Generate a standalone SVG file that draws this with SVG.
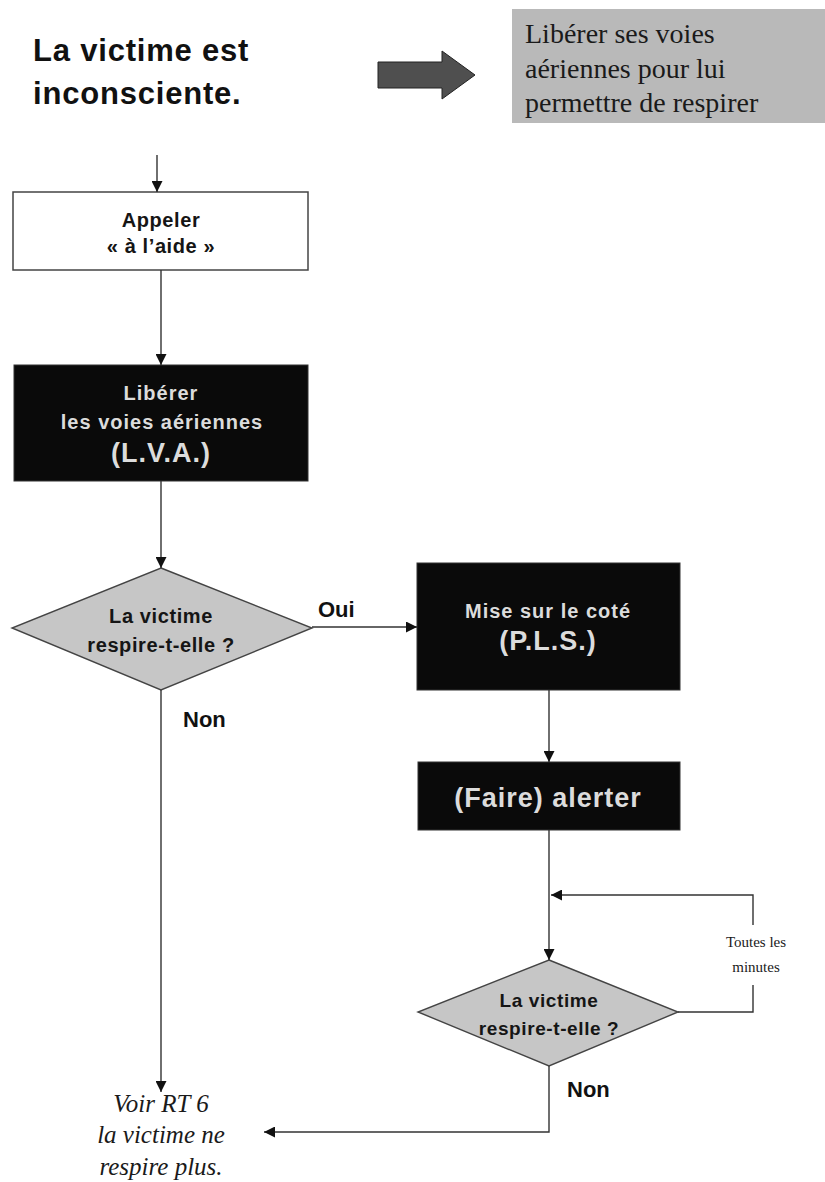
<svg xmlns="http://www.w3.org/2000/svg" width="825" height="1182" viewBox="0 0 825 1182">
<style>
.h{font-family:"Liberation Sans",Arial,sans-serif;font-weight:bold;fill:#111}
.b{font-family:"Liberation Sans",Arial,sans-serif;font-weight:bold;fill:#151515;text-anchor:middle;letter-spacing:0.6px}
.w{font-family:"Liberation Sans",Arial,sans-serif;font-weight:bold;fill:#dcdcdc;text-anchor:middle;letter-spacing:1px}
.s{font-family:"Liberation Serif","Times New Roman",serif;fill:#1a1a1a}
.ln{stroke:#333;stroke-width:1.4;fill:none}
.blk{fill:#0a0a0a;stroke:#333}
.dia{fill:#c6c6c6;stroke:#444;stroke-width:1.4}
</style>
<defs>
<marker id="ah" viewBox="0 0 10 10" refX="10" refY="5" markerWidth="11" markerHeight="11" markerUnits="userSpaceOnUse" orient="auto">
<path d="M0,0 L10,5 L0,10 z" fill="#111"/>
</marker>
</defs>
<rect width="825" height="1182" fill="#fff"/>
<g id="title">
<text class="h" x="33" y="61" font-size="31" letter-spacing="0.8">La victime est</text>
<text class="h" x="33" y="104" font-size="31" letter-spacing="0.8">inconsciente.</text>
</g>
<g id="bigarrow">
<path d="M378,62 L442,62 L442,51 L475,75 L442,99 L442,88 L378,88 z" fill="#4f4f4f" stroke="#222"/>
</g>
<g id="note">
<rect x="512" y="9" width="313" height="114" fill="#b9b9b9"/>
<text class="s" x="525" y="43" font-size="28">Libérer ses voies</text>
<text class="s" x="525" y="78" font-size="28">aériennes pour lui</text>
<text class="s" x="525" y="112" font-size="28">permettre de respirer</text>
</g>
<g id="appeler">
<rect x="13" y="192" width="295" height="78" fill="#fff" stroke="#444" stroke-width="1.5"/>
<text class="b" x="161" y="227" font-size="20">Appeler</text>
<text class="b" x="161" y="253" font-size="20">« à l’aide »</text>
</g>
<g id="lva">
<rect class="blk" x="14" y="365" width="294" height="116"/>
<text class="w" x="161" y="400" font-size="20">Libérer</text>
<text class="w" x="162" y="429" font-size="20">les voies aériennes</text>
<text class="w" x="161" y="462" font-size="27">(L.V.A.)</text>
</g>
<g id="decision1">
<path class="dia" d="M161,568 L312,628 L161,690 L12,628 z"/>
<text class="b" x="161" y="623" font-size="20">La victime</text>
<text class="b" x="161" y="652" font-size="20">respire-t-elle ?</text>
</g>
<g id="pls">
<rect class="blk" x="417" y="563" width="263" height="127"/>
<text class="w" x="548" y="618" font-size="20">Mise sur le coté</text>
<text class="w" x="548" y="650" font-size="27">(P.L.S.)</text>
</g>
<g id="alerter">
<rect class="blk" x="418" y="762" width="262" height="68"/>
<text class="w" x="548" y="807" font-size="27">(Faire) alerter</text>
</g>
<g id="decision2">
<path class="dia" d="M549,960 L678,1012 L549,1066 L418,1012 z"/>
<text class="b" x="549" y="1007" font-size="19">La victime</text>
<text class="b" x="549" y="1035" font-size="19">respire-t-elle ?</text>
</g>
<g id="result">
<text class="s" x="161" y="1112" font-size="25" font-style="italic" text-anchor="middle">Voir RT 6</text>
<text class="s" x="161" y="1143" font-size="25" font-style="italic" text-anchor="middle">la victime ne</text>
<text class="s" x="161" y="1175" font-size="25" font-style="italic" text-anchor="middle">respire plus.</text>
</g>
<g id="connectors">
<line class="ln" x1="157" y1="155" x2="157" y2="192" marker-end="url(#ah)"/>
<line class="ln" x1="161" y1="270" x2="161" y2="365" marker-end="url(#ah)"/>
<line class="ln" x1="161" y1="481" x2="161" y2="568" marker-end="url(#ah)"/>
<line class="ln" x1="312" y1="627" x2="417" y2="627" marker-end="url(#ah)"/>
<line class="ln" x1="161" y1="690" x2="161" y2="1092" marker-end="url(#ah)"/>
<line class="ln" x1="549" y1="690" x2="549" y2="762" marker-end="url(#ah)"/>
<line class="ln" x1="549" y1="830" x2="549" y2="960" marker-end="url(#ah)"/>
<polyline class="ln" points="678,1012 753,1012 753,985"/>
<polyline class="ln" points="753,925 753,895 551,895" marker-end="url(#ah)"/>
<polyline class="ln" points="549,1066 549,1132 264,1132" marker-end="url(#ah)"/>
<text class="h" x="318" y="617" font-size="22">Oui</text>
<text class="h" x="183" y="727" font-size="22">Non</text>
<text class="h" x="567" y="1097" font-size="22">Non</text>
<text class="s" x="756" y="947" font-size="15" text-anchor="middle">Toutes les</text>
<text class="s" x="756" y="972" font-size="15" text-anchor="middle">minutes</text>
</g>
</svg>
